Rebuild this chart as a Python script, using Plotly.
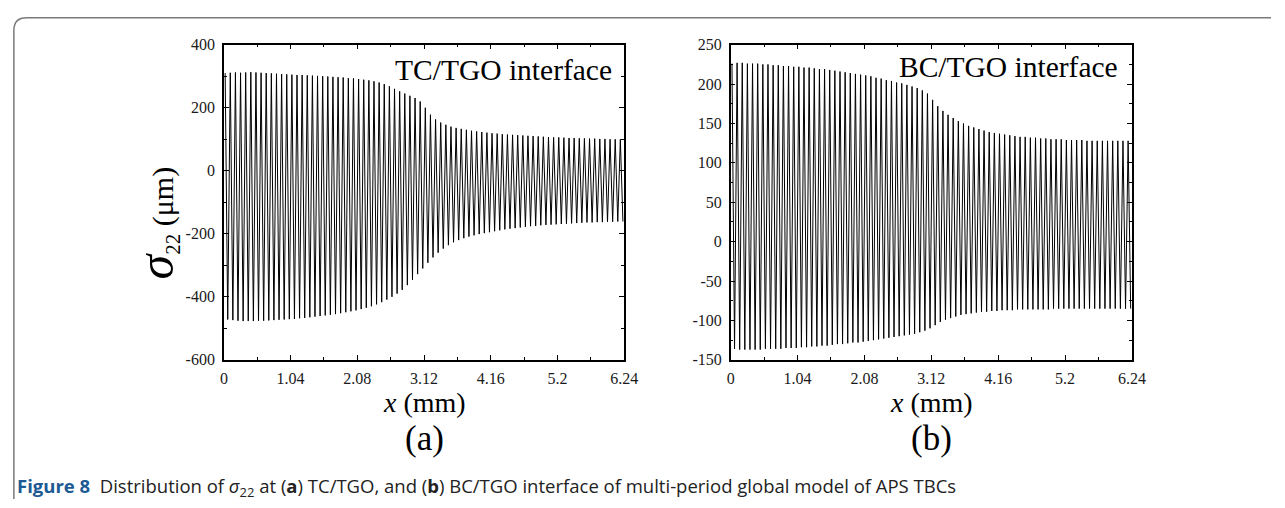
import plotly.graph_objects as go

# Axis ticks and labels
x_ticks = [0, 1.04, 2.08, 3.12, 4.16, 5.2, 6.24]
x_tick_labels = ["0", "1.04", "2.08", "3.12", "4.16", "5.2", "6.24"]
ya_ticks = [-600, -400, -200, 0, 200, 400]
ya_tick_labels = ["-600", "-400", "-200", "0", "200", "400"]
yb_ticks = [-150, -100, -50, 0, 50, 100, 150, 200, 250]
yb_tick_labels = ["-150", "-100", "-50", "0", "50", "100", "150", "200", "250"]

# Spacing of the interface undulation along x (mm)
period_mm = 0.08

# TC/TGO interface: sigma_22 at each crest and trough of the undulation
tc_peaks = [310, 311, 312, 311, 312, 313, 312, 311, 310, 309,
            308, 307, 306, 305, 304, 304, 303, 302, 301, 300,
            299, 298, 297, 296, 294, 293, 291, 289, 287, 284,
            280, 275, 268, 260, 252, 245, 238, 231, 220, 200,
            178, 163, 153, 146, 140, 136, 133, 130, 127, 125,
            123, 121, 119, 118, 116, 115, 114, 113, 112, 111,
            110, 109, 108, 107, 106, 106, 105, 104, 104, 103,
            103, 102, 102, 101, 101, 100, 100, 100]
tc_troughs = [-472, -474, -476, -477, -477, -477, -476, -476, -475, -474,
              -473, -472, -471, -470, -468, -467, -465, -463, -461, -459,
              -457, -455, -452, -449, -446, -443, -439, -435, -430, -424,
              -417, -409, -400, -390, -378, -363, -346, -328, -310, -292,
              -275, -260, -247, -236, -227, -220, -214, -209, -205, -201,
              -198, -195, -192, -189, -186, -184, -182, -180, -178, -176,
              -175, -173, -172, -171, -170, -169, -168, -167, -166, -165,
              -164, -164, -163, -163, -162, -162, -161, -161]

# BC/TGO interface: sigma_22 at each crest and trough of the undulation
bc_peaks = [226, 227, 227, 226, 226, 226, 225, 225, 224, 224,
            223, 223, 222, 222, 221, 221, 220, 219, 219, 218,
            217, 216, 215, 214, 213, 212, 211, 210, 208, 207,
            205, 204, 202, 201, 199, 197, 195, 192, 188, 180,
            172, 166, 161, 157, 153, 150, 147, 145, 143, 141,
            139, 138, 137, 136, 135, 134, 133, 133, 132, 132,
            131, 131, 130, 130, 130, 129, 129, 129, 129, 128,
            128, 128, 128, 128, 128, 128, 128, 128]
bc_troughs = [-136, -137, -137, -137, -137, -137, -136, -136, -136, -136,
              -135, -135, -135, -134, -134, -133, -133, -132, -132, -131,
              -130, -130, -129, -128, -128, -127, -126, -125, -124, -123,
              -122, -121, -120, -119, -118, -117, -115, -113, -110, -106,
              -102, -99, -97, -95, -93, -92, -91, -90, -89, -89,
              -88, -88, -87, -87, -87, -86, -86, -86, -86, -86,
              -86, -86, -85, -85, -85, -85, -85, -85, -85, -85,
              -85, -85, -85, -85, -85, -85, -85, -85]


def zigzag(peaks, troughs):
    xs, ys = [], []
    for i, (p, t) in enumerate(zip(peaks, troughs)):
        xs += [period_mm * (i + 0.25), period_mm * (i + 0.75)]
        ys += [p, t]
    return xs, ys


def minor_between(ticks):
    return [(a + b) / 2 for a, b in zip(ticks[:-1], ticks[1:])]


W, H = 1285, 508
SERIF = "Liberation Serif, Times New Roman, serif"
SANS = "Open Sans, Noto Sans, sans-serif"

fig = go.Figure()
xa, ya = zigzag(tc_peaks, tc_troughs)
xb, yb = zigzag(bc_peaks, bc_troughs)
fig.add_trace(go.Scatter(x=xa, y=ya, mode="lines", line=dict(color="black", width=1),
                         xaxis="x", yaxis="y", showlegend=False, hoverinfo="skip"))
fig.add_trace(go.Scatter(x=xb, y=yb, mode="lines", line=dict(color="black", width=1),
                         xaxis="x2", yaxis="y2", showlegend=False, hoverinfo="skip"))


def axis_style(ticks, labels, rng, domain, anchor, standoff):
    return dict(
        domain=domain, anchor=anchor, range=rng,
        tickmode="array", tickvals=ticks, ticktext=labels,
        showline=True, linecolor="black", linewidth=1.5, mirror="ticks",
        ticks="inside", ticklen=5, tickwidth=1.2, tickcolor="black",
        minor=dict(tickvals=minor_between(ticks), ticks="inside", ticklen=3,
                   tickwidth=1, tickcolor="black"),
        showgrid=False, zeroline=False, fixedrange=True,
        ticklabelstandoff=standoff,
        tickfont=dict(family=SERIF, size=16, color="#1a1a1a"),
    )


def px_x(p):
    return p / W


def px_y(p):
    return 1 - p / H


plot_top, plot_bottom = 38, 364
y_dom = [px_y(plot_bottom), px_y(plot_top)]

fig.update_layout(
    width=W, height=H, margin=dict(l=0, r=0, t=0, b=0),
    paper_bgcolor="white", plot_bgcolor="white",
    xaxis=axis_style(x_ticks, x_tick_labels, [0, 6.24], [px_x(223), px_x(629)], "y", 3),
    yaxis=axis_style(ya_ticks, ya_tick_labels, [-600, 400], y_dom, "x", 4),
    xaxis2=axis_style(x_ticks, x_tick_labels, [0, 6.24], [px_x(737), px_x(1144)], "y2", 3),
    yaxis2=axis_style(yb_ticks, yb_tick_labels, [-150, 250], y_dom, "x2", 4),
)

ann = []
# Interface labels inside each panel
ann.append(dict(text="TC/TGO interface", x=px_x(619), y=px_y(64), xref="paper", yref="paper",
                xanchor="right", yanchor="middle", showarrow=False,
                font=dict(family=SERIF, size=29.5, color="black")))
ann.append(dict(text="BC/TGO interface", x=px_x(1132), y=px_y(61), xref="paper", yref="paper",
                xanchor="right", yanchor="middle", showarrow=False,
                font=dict(family=SERIF, size=29.5, color="black")))
# Axis titles and panel letters
ann.append(dict(text="<span style='font-size:50px'><i>σ</i></span><sub>22</sub> (μm)",
                x=px_x(154), y=px_y(222), xref="paper", yref="paper", textangle=-90,
                xanchor="center", yanchor="middle", showarrow=False,
                font=dict(family=SERIF, size=30, color="black")))
for cx, letter in [((223 + 629) / 2, "(a)"), ((737 + 1144) / 2, "(b)")]:
    ann.append(dict(text="<i>x</i> (mm)", x=px_x(cx), y=px_y(391), xref="paper", yref="paper",
                    xanchor="center", yanchor="top", showarrow=False, borderpad=0,
                    font=dict(family=SERIF, size=28, color="black")))
    ann.append(dict(text=letter, x=px_x(cx), y=px_y(445), xref="paper", yref="paper",
                    xanchor="center", yanchor="middle", showarrow=False,
                    font=dict(family=SERIF, size=35, color="black")))
# Figure caption
ann.append(dict(
    text="<span style='color:#1b5a93'><b>Figure 8</b></span>\u00a0\u00a0Distribution of <i>σ</i><sub>22</sub> at "
         "(<b>a</b>) TC/TGO, and (<b>b</b>) BC/TGO interface of multi-period global model of APS TBCs",
    x=px_x(11), y=px_y(496), xref="paper", yref="paper", xanchor="left", yanchor="middle",
    showarrow=False, font=dict(family=SANS, size=18.5, color="#222222")))
fig.update_layout(annotations=ann)

# Page frame with rounded top-left corner
fig.add_shape(type="path", xref="paper", yref="paper",
              path=f"M {px_x(10)},0 L {px_x(10)},{px_y(23)} Q {px_x(10)},{px_y(10)} {px_x(23)},{px_y(10)} L 1,{px_y(10)}",
              line=dict(color="#7a7a7a", width=1.5))

fig.write_html("out.html")
